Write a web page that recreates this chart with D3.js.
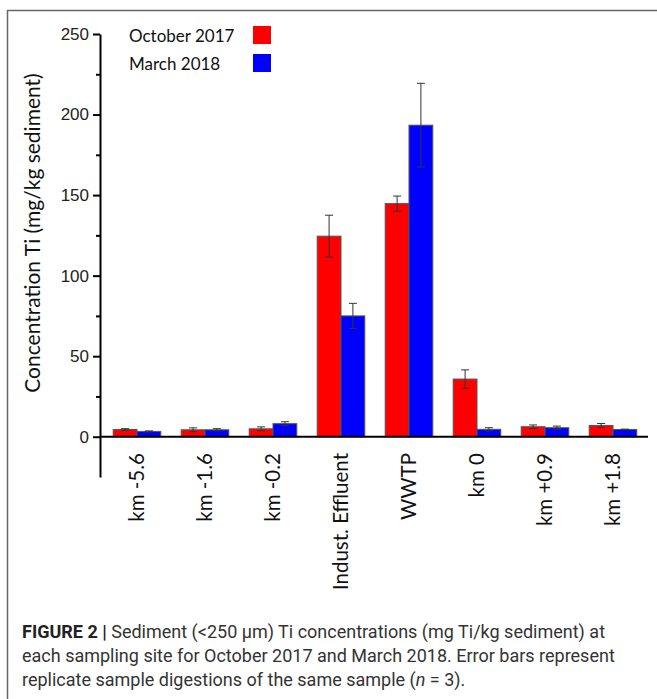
<!DOCTYPE html>
<html>
<head>
<meta charset="utf-8">
<script src="https://cdn.jsdelivr.net/npm/d3@7"></script>
<style>
  html, body { margin: 0; padding: 0; background: #fff; }
  svg { display: block; }
</style>
</head>
<body>
<svg id="fig" width="657" height="699"></svg>
<script>
// Sampling sites along the river
const sites = ["km -5.6", "km -1.6", "km -0.2", "Indust. Effluent", "WWTP", "km 0", "km +0.9", "km +1.8"];
const seriesNames = ["October 2017", "March 2018"];
const seriesColors = ["#ff0000", "#0000ff"];

// Ti concentration (mg/kg sediment) and replicate error
const oct2017 = [4.5, 4.3, 4.9, 124.5, 144.7, 35.8, 6.2, 7.0];
const oct2017Err = [0.5, 1.2, 1.2, 13.0, 4.7, 5.7, 1.1, 1.2];
const mar2018 = [3.3, 4.3, 8.1, 75.0, 193.4, 4.6, 5.6, 4.5];
const mar2018Err = [0.3, 0.7, 1.2, 7.8, 26.0, 1.0, 1.0, 0.2];

const yMajorTicks = [0, 50, 100, 150, 200, 250];
const yMinorTicks = [25, 75, 125, 175, 225];

const svg = d3.select("#fig");

// figure frame
svg.append("path")
  .attr("d", "M7.5,699 V10.5 H657")
  .attr("fill", "none")
  .attr("stroke", "#666")
  .attr("stroke-width", 1.5);

const y = d3.scaleLinear().domain([-25, 250]).range([477, 34]);
const x = d3.scaleBand().domain(sites).range([103, 647]).paddingInner(0.3).paddingOuter(0.15);
const xs = d3.scaleBand().domain([0, 1]).range([0, x.bandwidth()]);

const labelFont = "Lato, 'Open Sans', sans-serif";

// bars
const series = [
  { vals: oct2017, errs: oct2017Err },
  { vals: mar2018, errs: mar2018Err }
];
const g = svg.append("g");
series.forEach((s, si) => {
  const rows = sites.map((site, i) => ({ site, v: s.vals[i], e: s.errs[i] }));
  g.selectAll(null).data(rows).enter().append("rect")
    .attr("x", d => x(d.site) + xs(si))
    .attr("y", d => y(d.v))
    .attr("width", xs.bandwidth())
    .attr("height", d => y(0) - y(d.v))
    .attr("fill", seriesColors[si])
    .attr("stroke", "#555")
    .attr("stroke-width", 1);
});
// error bars
series.forEach((s, si) => {
  const rows = sites.map((site, i) => ({ site, v: s.vals[i], e: s.errs[i] }));
  const eg = g.selectAll(null).data(rows).enter().append("g")
    .attr("stroke", "#333").attr("stroke-width", 1);
  const cx = d => x(d.site) + xs(si) + xs.bandwidth() / 2;
  eg.append("line").attr("x1", cx).attr("x2", cx)
    .attr("y1", d => y(d.v + d.e)).attr("y2", d => y(d.v - d.e));
  eg.append("line").attr("x1", d => cx(d) - 4).attr("x2", d => cx(d) + 4)
    .attr("y1", d => y(d.v + d.e)).attr("y2", d => y(d.v + d.e));
  eg.append("line").attr("x1", d => cx(d) - 4).attr("x2", d => cx(d) + 4)
    .attr("y1", d => y(d.v - d.e)).attr("y2", d => y(d.v - d.e));
});

// y axis with major and minor ticks
const yAxis = svg.append("g").attr("transform", "translate(100,0)")
  .call(d3.axisLeft(y).tickValues(yMajorTicks).tickSize(7).tickPadding(4).tickSizeOuter(0));
yAxis.select(".domain").attr("stroke", "#000").attr("stroke-width", 2);
yAxis.selectAll(".tick line").attr("stroke", "#000").attr("stroke-width", 2);
yAxis.selectAll(".tick text")
  .attr("font-family", "'Liberation Sans', Arial, sans-serif")
  .attr("font-size", 17).attr("fill", "#222");
svg.append("g").attr("transform", "translate(100,0)")
  .call(d3.axisLeft(y).tickValues(yMinorTicks).tickSize(4).tickFormat("").tickSizeOuter(0))
  .call(a => a.select(".domain").remove())
  .selectAll(".tick line").attr("stroke", "#000").attr("stroke-width", 2);

// x axis baseline at zero
svg.append("line")
  .attr("x1", 100).attr("x2", 648)
  .attr("y1", y(0)).attr("y2", y(0))
  .attr("stroke", "#000").attr("stroke-width", 2);

// site labels, rotated under each bar pair
svg.append("g").selectAll("text").data(sites).enter().append("text")
  .attr("transform", d => `translate(${x(d) + x.bandwidth() / 2},453) rotate(-90)`)
  .attr("text-anchor", "end")
  .attr("dy", "0.35em")
  .attr("font-family", labelFont)
  .attr("font-size", 20.5)
  .attr("fill", "#111")
  .text(d => d);

// y axis title
svg.append("text")
  .attr("transform", `translate(33,233) rotate(-90)`)
  .attr("text-anchor", "middle")
  .attr("dy", "0.35em")
  .attr("font-family", labelFont)
  .attr("font-size", 21)
  .attr("fill", "#111")
  .text("Concentration Ti (mg/kg sediment)");

// legend
const leg = svg.append("g");
seriesNames.forEach((name, i) => {
  leg.append("text")
    .attr("x", 129).attr("y", 42 + i * 28)
    .attr("font-family", labelFont)
    .attr("font-size", 17)
    .attr("fill", "#111")
    .text(name);
  leg.append("rect")
    .attr("x", 253).attr("y", 26 + i * 28)
    .attr("width", 18).attr("height", 18)
    .attr("fill", seriesColors[i]);
});

// caption
const cap = svg.append("g")
  .attr("font-family", "Roboto, 'Liberation Sans', sans-serif")
  .attr("font-size", 18).attr("fill", "#333");
const l1 = cap.append("text").attr("x", 22).attr("y", 638);
l1.append("tspan").attr("font-weight", "bold").attr("fill", "#222").text("FIGURE 2 |");
l1.append("tspan").text(" Sediment (<250 μm) Ti concentrations (mg Ti/kg sediment) at");
cap.append("text").attr("x", 22).attr("y", 662)
  .text("each sampling site for October 2017 and March 2018. Error bars represent");
const l3 = cap.append("text").attr("x", 22).attr("y", 686);
l3.append("tspan").text("replicate sample digestions of the same sample (");
l3.append("tspan").attr("font-style", "italic").text("n");
l3.append("tspan").text(" = 3).");
</script>
</body>
</html>
